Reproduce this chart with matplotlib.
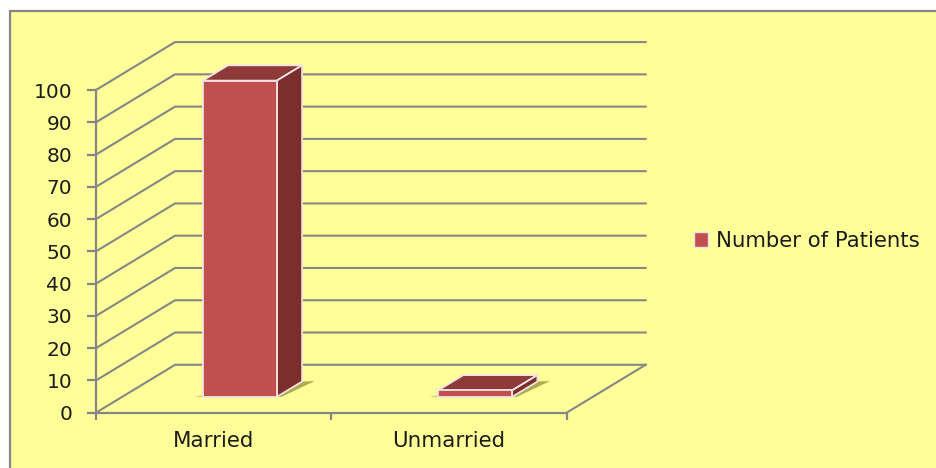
import matplotlib
matplotlib.use('Agg')
from matplotlib import pyplot as plt
from matplotlib.patches import Patch, Polygon, Rectangle

categories = ['Married', 'Unmarried']
patients = [98, 2]
series_name = 'Number of Patients'
y_ticks = [0, 10, 20, 30, 40, 50, 60, 70, 80, 90, 100]

GRAY = '#868686'
TEXT = '#1c1c1c'
YELLOW = '#FFFF99'
FRONT = '#C0504D'
TOP = '#8E3A38'
SIDE = '#7B2F2D'
EDGE = '#F2E2E2'
SHADOW = '#8A8A30'

# how far the back wall sits from the front, in data units
DEPTH_X = 0.336
DEPTH_Y = 14.85
BAR_W = 0.315
D0 = 0.33
D1 = 0.65


def proj(x, v, d):
    return (x + d * DEPTH_X, v + d * DEPTH_Y)


def draw_bar(ax, i, v):
    xl = i + 0.5 - BAR_W / 2
    xr = i + 0.5 + BAR_W / 2
    shadow = [proj(xr, 0, D0), proj(xr, 0, D1), proj(xr + 0.05, 0, D1 + 0.01), proj(xr + 0.02, 0, D0)]
    ax.add_patch(Polygon(shadow, fc=SHADOW, ec='none', alpha=0.7, zorder=3, clip_on=False))
    sliver = [proj(xl, 0, D0), proj(xl - 0.035, 0, D0), proj(xl, 0, D0 + 0.05)]
    ax.add_patch(Polygon(sliver, fc=SHADOW, ec='none', alpha=0.5, zorder=3, clip_on=False))
    top = [proj(xl, v, D0), proj(xr, v, D0), proj(xr, v, D1), proj(xl, v, D1)]
    side = [proj(xr, 0, D0), proj(xr, 0, D1), proj(xr, v, D1), proj(xr, v, D0)]
    front = [proj(xl, 0, D0), proj(xr, 0, D0), proj(xr, v, D0), proj(xl, v, D0)]
    for pts, col in ((top, TOP), (side, SIDE), (front, FRONT)):
        ax.add_patch(Polygon(pts, fc=col, ec=EDGE, lw=1.3, joinstyle='round', zorder=4, clip_on=False))


fig = plt.figure(figsize=(9.37, 4.68), dpi=100, facecolor='white')

# yellow panel, runs off the right and bottom of the picture
fig.add_artist(Rectangle((10.5 / 937, -0.02), 1.0, 1 - 10.5 / 468 + 0.02, transform=fig.transFigure,
                         fc=YELLOW, ec=GRAY, lw=1.6, zorder=-1))

ax = fig.add_axes([96 / 937, (468 - 412.7) / 468, 470.6 / 937, 322.7 / 468])
ax.patch.set_visible(False)
ax.set_xlim(0, len(categories))
ax.set_ylim(0, 100)

for v in y_ticks:
    pts = [proj(0, v, 0), proj(0, v, 1), proj(len(categories), v, 1)]
    ax.plot([p[0] for p in pts], [p[1] for p in pts], color=GRAY, lw=1.5, zorder=1, clip_on=False)
edge = [proj(len(categories), 0, 0), proj(len(categories), 0, 1)]
ax.plot([p[0] for p in edge], [p[1] for p in edge], color=GRAY, lw=1.5, zorder=1, clip_on=False)

for i, v in enumerate(patients):
    draw_bar(ax, i, v)

for s in ('top', 'right'):
    ax.spines[s].set_visible(False)
for s in ('left', 'bottom'):
    ax.spines[s].set_color(GRAY)
    ax.spines[s].set_linewidth(1.6)

ax.set_yticks(y_ticks)
ax.set_xticks(range(len(categories) + 1))
ax.set_xticklabels([])
ax.set_xticks([i + 0.5 for i in range(len(categories))], minor=True)
ax.set_xticklabels(categories, minor=True)
ax.tick_params(axis='y', length=6.7, width=1.6, color=GRAY, labelsize=14.5, labelcolor=TEXT, pad=10.5)
ax.tick_params(axis='x', which='major', length=5, width=1.6, color=GRAY)
ax.tick_params(axis='x', which='minor', length=0, labelsize=15.4, labelcolor=TEXT, pad=13)

leg = fig.legend(handles=[Patch(fc=FRONT, ec=EDGE, lw=1, label=series_name)], loc='center left',
                 bbox_to_anchor=(674.5 / 937, (468 - 241) / 468), frameon=False, fontsize=15.3,
                 handlelength=0.7, handleheight=0.7, handletextpad=0.35, labelcolor=TEXT)

fig.savefig('out.png', dpi=100)
plt.close()
